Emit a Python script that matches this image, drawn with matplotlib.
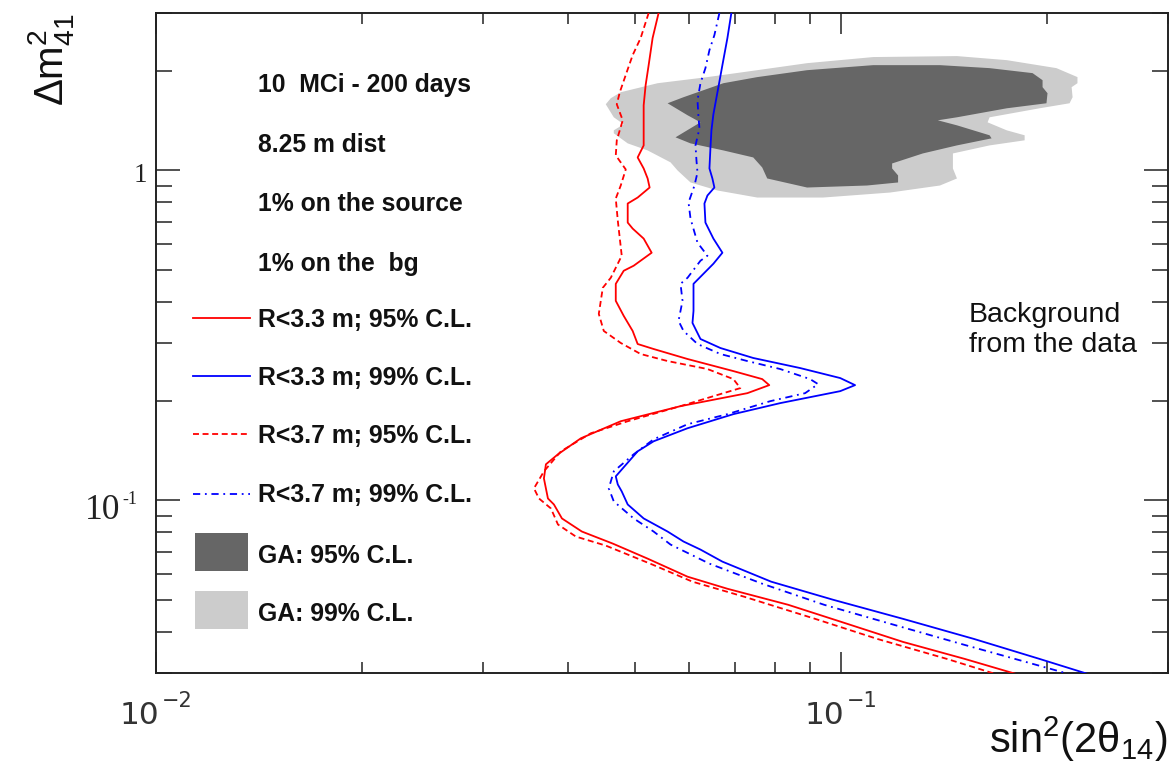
import numpy as np
import matplotlib
matplotlib.use("Agg")
import matplotlib.pyplot as plt
from matplotlib.lines import Line2D
from matplotlib.patches import Rectangle
from matplotlib.ticker import LogLocator, NullFormatter

plt.rcParams['font.family'] = ['Liberation Sans', 'DejaVu Sans']
plt.rcParams['mathtext.fontset'] = 'custom'
plt.rcParams['mathtext.rm'] = 'Liberation Sans'
plt.rcParams['mathtext.it'] = 'Liberation Sans:italic'
plt.rcParams['mathtext.bf'] = 'Liberation Sans:bold'

# ---------------- data ----------------
# R<3.3 m, 95% C.L. (red solid)
r33_95_x = [0.05415, 0.05307, 0.05237, 0.05184, 0.0515, 0.0515, 0.05047, 0.0515, 0.05219, 0.05254,
            0.05047, 0.04881, 0.04881, 0.04963, 0.0515, 0.0529, 0.0498, 0.04816, 0.04689, 0.04689,
            0.04816, 0.04963, 0.05047, 0.05325, 0.05968, 0.06962, 0.07671, 0.07854, 0.07297, 0.05829,
            0.04768, 0.0417, 0.03861, 0.03708, 0.03683, 0.03733, 0.03809, 0.03913, 0.04184, 0.04642,
            0.05219, 0.05968, 0.06824, 0.0837, 0.1, 0.1231, 0.1515, 0.1840]
r33_95_y = [3.0, 2.519, 2.085, 1.813, 1.576, 1.191, 1.095, 1.014, 0.9456, 0.8877,
            0.8278, 0.7939, 0.6951, 0.6665, 0.6216, 0.5632, 0.5144, 0.4966, 0.4533, 0.4026,
            0.3625, 0.3263, 0.2979, 0.2877, 0.2683, 0.2466, 0.2332, 0.2236, 0.2114, 0.1931,
            0.1738, 0.1543, 0.138, 0.1287, 0.1166, 0.1014, 0.09723, 0.0882, 0.0805, 0.07401,
            0.06663, 0.05875, 0.054, 0.04829, 0.04287, 0.03727, 0.0331, 0.0294]

# R<3.3 m, 99% C.L. (blue solid)
r33_99_x = [0.06915, 0.06824, 0.0671, 0.0662, 0.0651, 0.06467, 0.06445, 0.06424, 0.06488, 0.06532,
            0.06381, 0.06317, 0.06338, 0.0651, 0.0671, 0.0651, 0.06089, 0.06089, 0.06068, 0.06233,
            0.06665, 0.07443, 0.08713, 0.0997, 0.1048, 0.0997, 0.08148, 0.06962, 0.05968, 0.05325,
            0.05047, 0.04689, 0.04721, 0.04784, 0.04881, 0.0515, 0.05581, 0.05888, 0.06233, 0.0671,
            0.07906, 0.09735, 0.1231, 0.1562, 0.1948, 0.2340]
r33_99_y = [3.0, 2.519, 2.085, 1.788, 1.48, 1.323, 1.166, 1.014, 0.9456, 0.8877,
            0.8396, 0.7939, 0.6951, 0.6216, 0.5632, 0.5216, 0.4533, 0.3753, 0.3451, 0.3085,
            0.2897, 0.2702, 0.2519, 0.2349, 0.2236, 0.2144, 0.1972, 0.1826, 0.1655, 0.1511,
            0.1409, 0.1183, 0.1118, 0.1065, 0.09723, 0.0882, 0.0805, 0.07508, 0.07098, 0.06525,
            0.05673, 0.05001, 0.04378, 0.03806, 0.0331, 0.0294]

# R<3.7 m, 95% C.L. (red dashed)
r37_95_x = [0.05237, 0.05098, 0.04963, 0.04865, 0.04753, 0.04705, 0.048, 0.04705, 0.04689, 0.04849,
            0.04768, 0.04689, 0.04721, 0.04784, 0.04611, 0.04489, 0.04429, 0.04504, 0.04768, 0.05098,
            0.05581, 0.06381, 0.06962, 0.07127, 0.0651, 0.05829, 0.04881, 0.04312, 0.039, 0.03683,
            0.03562, 0.03622, 0.03771, 0.03861, 0.041, 0.04534, 0.05307, 0.06068, 0.07223, 0.09162,
            0.1129, 0.1427, 0.1715]
r37_95_y = [3.0, 2.519, 2.236, 1.986, 1.726, 1.587, 1.419, 1.234, 1.111, 1.007,
            0.9003, 0.8221, 0.7047, 0.5516, 0.4729, 0.441, 0.3675, 0.3263, 0.3001, 0.2778,
            0.2645, 0.2502, 0.2332, 0.219, 0.207, 0.1931, 0.1738, 0.1598, 0.1409, 0.1225,
            0.1088, 0.1014, 0.09456, 0.08455, 0.07773, 0.07298, 0.06389, 0.05673, 0.05107, 0.04378,
            0.03806, 0.0331, 0.0294]

# R<3.7 m, 99% C.L. (blue dash-dot)
r37_99_x = [0.06643, 0.06532, 0.06424, 0.06338, 0.06233, 0.06171, 0.06192, 0.06212, 0.0613, 0.0615,
            0.06171, 0.06109, 0.05988, 0.06028, 0.06171, 0.06381, 0.06233, 0.05968, 0.05829, 0.05868,
            0.0579, 0.05888, 0.06171, 0.06665, 0.07297, 0.08148, 0.0901, 0.09255, 0.0886, 0.0788,
            0.06824, 0.05968, 0.05325, 0.0498, 0.04658, 0.0458, 0.04658, 0.0498, 0.05325, 0.05637,
            0.06424, 0.07671, 0.09445, 0.1195, 0.1515, 0.186, 0.2200]
r37_99_y = [3.0, 2.572, 2.316, 2.042, 1.838, 1.632, 1.449, 1.342, 1.191, 1.072,
            0.9861, 0.9003, 0.7994, 0.7147, 0.6042, 0.5516, 0.5326, 0.4729, 0.4533, 0.4026,
            0.35, 0.3263, 0.2979, 0.2778, 0.2645, 0.2502, 0.2332, 0.2252, 0.2114, 0.1999,
            0.1826, 0.1702, 0.1532, 0.138, 0.1225, 0.1088, 0.09931, 0.0882, 0.0805, 0.0735,
            0.06434, 0.05594, 0.04829, 0.04198, 0.03649, 0.03241, 0.0294]

# GA allowed regions
ga99_x = [0.04534, 0.04611, 0.04768, 0.05397, 0.06381, 0.07544, 0.0892, 0.1114, 0.1476, 0.1745,
          0.2062, 0.2213, 0.2213, 0.217, 0.2177, 0.2155, 0.1948, 0.1647, 0.1636, 0.1745,
          0.1853, 0.1853, 0.1647, 0.1456, 0.1456, 0.1476, 0.1394, 0.1179, 0.09413, 0.07544,
          0.06598, 0.06028, 0.05771, 0.05637, 0.05219, 0.04881, 0.04658, 0.04658, 0.04816, 0.04658]
ga99_y = [1.587, 1.655, 1.726, 1.838, 1.918, 2.013, 2.114, 2.206, 2.221, 2.159,
          2.042, 1.918, 1.838, 1.788, 1.667, 1.598, 1.543, 1.449, 1.399, 1.323,
          1.278, 1.234, 1.191, 1.126, 1.014, 0.9456, 0.9003, 0.8572, 0.8278, 0.8278,
          0.8696, 0.9196, 1.0, 1.058, 1.150, 1.208, 1.296, 1.323, 1.380, 1.449]
ga95_x = [0.05581, 0.05888, 0.06732, 0.07544, 0.0892, 0.1114, 0.1394, 0.1647, 0.1903, 0.1968,
          0.1968, 0.2001, 0.1994, 0.1745, 0.1476, 0.1384, 0.1476, 0.1647, 0.1658, 0.1476,
          0.1316, 0.1187, 0.1187, 0.1211, 0.1211, 0.1091, 0.0892, 0.07801, 0.07671, 0.07443,
          0.06732, 0.06028, 0.05732, 0.06028, 0.06233, 0.05968]
ga95_y = [1.598, 1.667, 1.838, 1.918, 2.013, 2.085, 2.085, 2.042, 1.972, 1.877,
          1.788, 1.714, 1.598, 1.543, 1.449, 1.419, 1.370, 1.278, 1.251, 1.191,
          1.126, 1.050, 1.014, 0.9656, 0.9196, 0.9003, 0.8877, 0.9456, 1.021, 1.095,
          1.150, 1.208, 1.260, 1.342, 1.399, 1.470]

x_limits = [0.01, 0.3]
y_limits = [0.03, 3.0]
x_tick_values = [0.01, 0.1]
x_tick_bases = ["10", "10"]
x_tick_exps = ["-2", "-1"]
y_tick_values = [1.0, 0.1]
y_tick_bases = ["1", "10"]
y_tick_exps = ["", "-1"]

info_lines = ["10  MCi - 200 days", "8.25 m dist", "1% on the source", "1% on the  bg"]
legend_labels = ["R<3.3 m; 95% C.L.", "R<3.3 m; 99% C.L.", "R<3.7 m; 95% C.L.",
                 "R<3.7 m; 99% C.L.", "GA: 95% C.L.", "GA: 99% C.L."]

# ---------------- styles ----------------
RED = '#ff0000'
BLUE = '#0000ff'
DARK = '#666666'
LIGHT = '#cccccc'
LW = 1.3
DASHED = (0, (3.3, 2.0))
DASHDOT = (0, (4.0, 2.6, 1.0, 2.6))

fig = plt.figure(figsize=(11.7, 7.8), dpi=100)
ax = fig.add_axes([156 / 1170, 1 - 673 / 780, 1012 / 1170, 660 / 780])
ax.set_xscale('log')
ax.set_yscale('log')

ax.fill(ga99_x, ga99_y, color=LIGHT, lw=0, zorder=1)
ax.fill(ga95_x, ga95_y, color=DARK, lw=0, zorder=2)

ax.plot(r33_95_x, r33_95_y, color=RED, lw=LW, ls='-', zorder=3)
ax.plot(r33_99_x, r33_99_y, color=BLUE, lw=LW, ls='-', zorder=3)
ax.plot(r37_95_x, r37_95_y, color=RED, lw=LW, ls=DASHED, zorder=3)
ax.plot(r37_99_x, r37_99_y, color=BLUE, lw=LW, ls=DASHDOT, zorder=3)

ax.set_xlim(*x_limits)
ax.set_ylim(*y_limits)

for axis in (ax.xaxis, ax.yaxis):
    axis.set_major_locator(LogLocator(base=10, numticks=20))
    axis.set_minor_locator(LogLocator(base=10, subs=np.arange(2, 10), numticks=20))
    axis.set_major_formatter(NullFormatter())
    axis.set_minor_formatter(NullFormatter())

ax.tick_params(axis='both', which='both', direction='in', top=True, right=True,
               color='#222222', width=1.1)
ax.tick_params(axis='x', which='major', length=15)
ax.tick_params(axis='x', which='minor', length=8)
ax.tick_params(axis='y', which='major', length=17.3)
ax.tick_params(axis='y', which='minor', length=11.5)
for sp in ax.spines.values():
    sp.set_linewidth(1.4)
    sp.set_color('#222222')

# ---- tick labels (ROOT style) ----
serif = ['Liberation Serif', 'DejaVu Serif']
# y: "1"
ax.annotate(y_tick_bases[0], xy=(0, y_tick_values[0]), xycoords=('axes fraction', 'data'),
            xytext=(-6.5, -8.6), textcoords='offset points', ha='right', va='baseline',
            fontsize=19.5, family=serif, color='#222222', annotation_clip=False)
# y: "10^-1"
ax.annotate(y_tick_bases[1], xy=(0, y_tick_values[1]), xycoords=('axes fraction', 'data'),
            xytext=(-25.9, -13.0), textcoords='offset points', ha='right', va='baseline',
            fontsize=25.5, family=serif, color='#222222', annotation_clip=False)
ax.annotate(y_tick_exps[1], xy=(0, y_tick_values[1]), xycoords=('axes fraction', 'data'),
            xytext=(-24.0, -2.2), textcoords='offset points', ha='left', va='baseline',
            fontsize=13, family=serif, color='#222222', annotation_clip=False)
# x: "10^-2", "10^-1"
for val, base, ex in zip(x_tick_values, x_tick_bases, x_tick_exps):
    ax.annotate(base, xy=(val, 0), xycoords=('data', 'axes fraction'),
                xytext=(2.2, -36.7), textcoords='offset points', ha='right', va='baseline',
                fontsize=22.5, family='DejaVu Sans', color='#333333', annotation_clip=False)
    ax.annotate(ex.replace('-', '\u2212'), xy=(val, 0), xycoords=('data', 'axes fraction'),
                xytext=(4.3, -24.5), textcoords='offset points', ha='left', va='baseline',
                fontsize=15, family='DejaVu Sans', color='#333333', annotation_clip=False)

# ---- axis titles ----
fig.text(1167 / 1170, 1 - 753 / 780, r'$\mathrm{sin^{2}(2\theta_{14})}$', ha='right',
         va='baseline', fontsize=30, color='#111111')
fig.text(63 / 1170, 1 - 13 / 780, r'$\mathrm{\Delta m^{2}_{41}}$', ha='right', va='baseline',
         rotation=90, rotation_mode='anchor', fontsize=29, color='#111111')

# ---- info text + legend ----
tx = (258 - 156) / 1012
info_y = [0.8803, 0.7894, 0.7, 0.6091]
for s, yy in zip(info_lines, info_y):
    ax.text(tx, yy, s, transform=ax.transAxes, fontsize=17.8, fontweight='bold',
            ha='left', va='baseline', color='#111111')

leg_y = [0.5242, 0.4364, 0.3485, 0.2591, 0.1667, 0.0788]
for s, yy in zip(legend_labels, leg_y):
    ax.text(tx, yy, s, transform=ax.transAxes, fontsize=17.8, fontweight='bold',
            ha='left', va='baseline', color='#111111')

line_styles = [(RED, '-'), (BLUE, '-'), (RED, DASHED), (BLUE, DASHDOT)]
line_y = [0.5379, 0.45, 0.3621, 0.2712]
x0, x1 = (193 - 156) / 1012, (250 - 156) / 1012
for (c, ls), yy in zip(line_styles, line_y):
    ax.add_line(Line2D([x0, x1], [yy, yy], transform=ax.transAxes, color=c, lw=LW, ls=ls))

bx0, bw = (195 - 156) / 1012, 53 / 1012
ax.add_patch(Rectangle((bx0, 0.1545), bw, 0.0576, transform=ax.transAxes, color=DARK, lw=0))
ax.add_patch(Rectangle((bx0, 0.0667), bw, 0.0576, transform=ax.transAxes, color=LIGHT, lw=0))

# ---- annotation ----
bgx = (969 - 156) / 1012
ax.text(bgx, 0.5318, "Background", transform=ax.transAxes, fontsize=20.5,
        ha='left', va='baseline', color='#111111')
ax.text(bgx, 0.4864, "from the data", transform=ax.transAxes, fontsize=20.5,
        ha='left', va='baseline', color='#111111')

fig.savefig("out.png", dpi=100)
